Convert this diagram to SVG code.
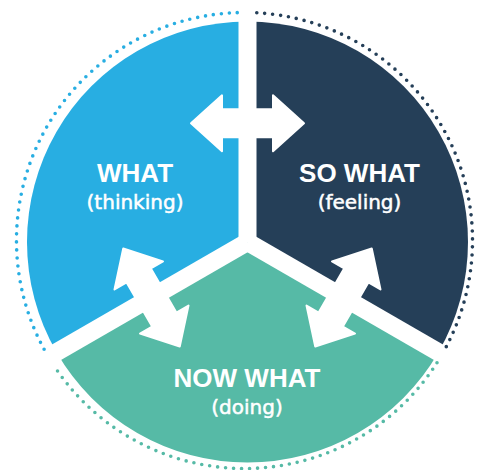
<svg xmlns="http://www.w3.org/2000/svg" width="477" height="470" viewBox="0 0 477 470">
<style>
.blue{fill:#28AEE2}.navy{fill:#253F58}.teal{fill:#56BAA6}
.div{stroke:#fff;stroke-width:18;stroke-linecap:butt}
.dots{fill:none;stroke-width:3.6;stroke-linecap:round;stroke-dasharray:0 8}
.h{font-family:"Liberation Sans",Arial,sans-serif;font-weight:bold;font-size:26px;fill:#fff;text-anchor:middle}
.s{font-family:"DejaVu Sans",Verdana,sans-serif;font-size:20px;fill:#fff;stroke:#fff;stroke-width:0.5;text-anchor:middle}
.arrow{fill:#fff;stroke:#fff;stroke-width:2;stroke-linejoin:round}
</style>
<defs>
<path id="dbl" d="M-56.5,0 L-25.5,-28 L-25.5,-14 L25.5,-14 L25.5,-28 L56.5,0 L25.5,28 L25.5,14 L-25.5,14 L-25.5,28 Z"/>
</defs>
<rect width="477" height="470" fill="#fff"/>
<g id="what">
<path class="blue" d="M247.5,242 L247.5,21.5 A220.5,220.5 0 0 0 56.54,352.25 Z"/>
<text class="h" x="135" y="182">WHAT</text>
<text class="s" x="135" y="209">(thinking)</text>
</g>
<g id="so-what">
<path class="navy" d="M247.5,242 L247.5,21.5 A220.5,220.5 0 0 1 438.46,352.25 Z"/>
<text class="h" x="359.5" y="182">SO WHAT</text>
<text class="s" x="359.5" y="209">(feeling)</text>
</g>
<g id="now-what">
<path class="teal" d="M247.5,242 L438.46,352.25 A220.5,220.5 0 0 1 56.54,352.25 Z"/>
<text class="h" x="247" y="387">NOW WHAT</text>
<text class="s" x="247" y="414">(doing)</text>
</g>
<g id="dividers">
<line class="div" x1="247.5" y1="242" x2="247.5" y2="15"/>
<line class="div" x1="247.5" y1="242" x2="51.3" y2="355.3"/>
<line class="div" x1="247.5" y1="242" x2="443.7" y2="355.3"/>
</g>
<g id="ring">
<path class="dots" stroke="#253F58" d="M256.8,12.8 A228,228 0 0 1 446.2,346.8"/>
<path class="dots" stroke="#56BAA6" d="M437,362.7 A228,228 0 0 1 53.5,365"/>
<path class="dots" stroke="#28AEE2" d="M44.1,349.3 A228,228 0 0 1 238.5,12.6"/>
</g>
<g id="connectors">
<use href="#dbl" class="arrow" transform="translate(247.5,123.3)"/>
<use href="#dbl" class="arrow" transform="translate(151.5,297.5) rotate(60)"/>
<use href="#dbl" class="arrow" transform="translate(343.5,297.5) rotate(-60)"/>
</g>
</svg>
